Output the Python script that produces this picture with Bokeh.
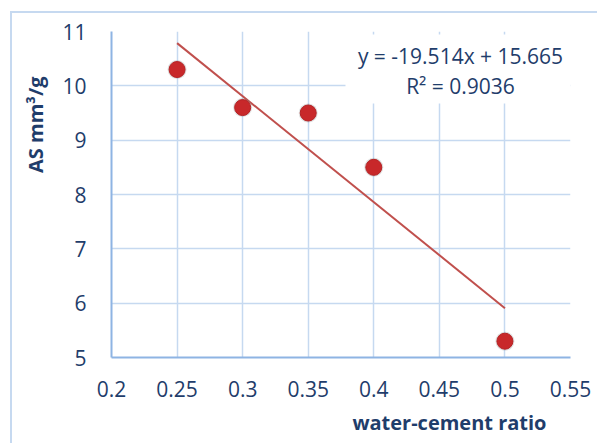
import math
from bokeh.plotting import figure
from bokeh.models import Label, FixedTicker, Range1d, BoxAnnotation, Title
from bokeh.embed import file_html
from bokeh.resources import INLINE

# data
wc_ratio = [0.25, 0.30, 0.35, 0.40, 0.50]
as_value = [10.3, 9.6, 9.5, 8.5, 5.3]
slope = -19.514
intercept = 15.665
r_squared = 0.9036
x_ticks = [0.2, 0.25, 0.3, 0.35, 0.4, 0.45, 0.5, 0.55]
y_ticks = [5, 6, 7, 8, 9, 10, 11]

FONT = "Open Sans"
TXT = "#1f3d6b"
GRID = "#c6d9f0"
AXIS = "#8eb4e3"

W, H = 597, 443
FL, FR, FT, FB = 111, 570, 31, 357   # frame edges on the page

p = figure(width=W, height=H, output_backend="svg", toolbar_location=None,
           x_range=Range1d(0.2, 0.55), y_range=Range1d(5, 11),
           min_border_left=FL, min_border_right=W - FR, min_border_top=FT,
           min_border_bottom=H - FB)
# outer chart-area border (left and top edges) drawn as page background
p.styles = {"background": ("linear-gradient(%s,%s) 10px 11px / 2px 100%% no-repeat, "
                           "linear-gradient(%s,%s) 10px 11px / 100%% 2px no-repeat, white")
            % (GRID, GRID, GRID, GRID)}
p.outline_line_color = None
p.background_fill_color = "white"
p.border_fill_alpha = 0

p.xaxis.ticker = FixedTicker(ticks=x_ticks)
p.yaxis.ticker = FixedTicker(ticks=y_ticks)
p.xaxis.major_label_overrides = {t: ("%g" % t) for t in x_ticks}
for ax in (p.xaxis, p.yaxis):
    ax.axis_line_color = AXIS
    ax.axis_line_width = 2
    ax.major_tick_line_color = None
    ax.minor_tick_line_color = None
    ax.major_label_text_font = FONT
    ax.major_label_text_font_size = "21px"
    ax.major_label_text_color = TXT
p.xaxis.major_label_standoff = 17
p.yaxis.major_label_standoff = 19

for g in (p.xgrid, p.ygrid):
    g.grid_line_color = GRID
    g.grid_line_width = 1.5

# trend line
tx = [min(wc_ratio), max(wc_ratio)]
ty = [slope * x + intercept for x in tx]
p.line(tx, ty, line_color="#c0504d", line_width=2)

# markers with soft shadow
p.scatter(wc_ratio, as_value, size=19, fill_color="#7f7f7f", fill_alpha=0.25, line_color=None)
p.scatter(wc_ratio, as_value, size=16, fill_color="#c8282a", line_color="#b52325", line_width=1)

# equation label (screen units relative to the frame, y from frame bottom)
eq1 = "y = %.3fx + %.3f" % (slope, intercept)
eq2 = "R² = %.4f" % r_squared
p.add_layout(BoxAnnotation(left=345 - FL, right=FR - FL, top=FB - 34, bottom=FB - 103,
                           left_units="screen", right_units="screen", top_units="screen",
                           bottom_units="screen", fill_color="white", fill_alpha=1, line_color=None))
for txt, py in ((eq1, 55), (eq2, 85)):
    p.add_layout(Label(x=460 - FL, y=FB - py, x_units="screen", y_units="screen", text=txt,
                       text_font=FONT, text_font_size="21px", text_color=TXT,
                       text_align="center", text_baseline="middle"))

# axis titles
xt = Title(text="water-cement ratio", align="right", offset=24, standoff=14, text_font=FONT,
           text_font_size="20px", text_font_style="bold", text_color=TXT)
p.add_layout(xt, "below")
yt = Title(text="AS mm³/g", align="right", offset=45, standoff=21, text_font=FONT,
           text_font_size="20px", text_font_style="bold", text_color=TXT)
p.add_layout(yt, "left")

open("out.html", "w").write(file_html(p, INLINE))
